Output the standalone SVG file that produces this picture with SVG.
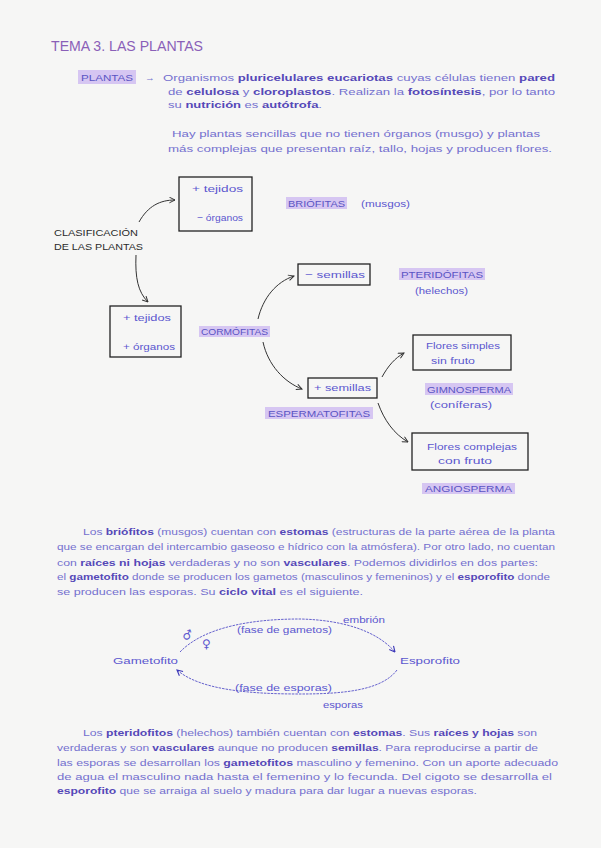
<svg xmlns="http://www.w3.org/2000/svg" width="601" height="848" viewBox="0 0 601 848">
<defs>
<style>
.bg{fill:#f6f6f5}
.title{font-family:"Liberation Sans",Arial,sans-serif;font-size:15px;fill:#8a5fb8}
.p{font-family:"Liberation Sans",Arial,sans-serif;font-size:9.5px;fill:#7470cf}
.d{fill:#5548b8;font-weight:bold}
.lbl{font-family:"Liberation Sans",Arial,sans-serif;font-size:9.5px;fill:#5b57cf}
.sym{font-family:"DejaVu Sans",sans-serif;font-size:12px;fill:#5b57cf}
.cap{font-family:"Liberation Sans",Arial,sans-serif;font-size:9.5px;fill:#5a54c4}
.blk{font-family:"Liberation Sans",Arial,sans-serif;font-size:9.5px;fill:#2a2a2a}
.hl{fill:#d6c6f2}
.box{fill:none;stroke:#222;stroke-width:1.3}
.con{fill:none;stroke:#333;stroke-width:1}
.cyc{fill:none;stroke:#5550c8;stroke-width:0.9;stroke-dasharray:2.5 1}
</style>
<marker id="ah" viewBox="0 0 10 10" refX="9" refY="5" markerWidth="7" markerHeight="7" orient="auto" markerUnits="userSpaceOnUse">
<path d="M1,1 L9,5 L1,9" fill="none" stroke="#333" stroke-width="1.4"/>
</marker>
<marker id="ahb" viewBox="0 0 10 10" refX="9" refY="5" markerWidth="7" markerHeight="7" orient="auto" markerUnits="userSpaceOnUse">
<path d="M1,1 L9,5 L1,9" fill="none" stroke="#3d38b8" stroke-width="1.6"/>
</marker>
</defs>
<rect class="bg" x="0" y="0" width="601" height="848"/>

<text class="title" x="51" y="51" textLength="152" lengthAdjust="spacingAndGlyphs">TEMA 3. LAS PLANTAS</text>

<g id="intro">
<rect class="hl" x="78" y="70" width="58" height="14"/>
<text class="cap" x="81" y="81" textLength="52" lengthAdjust="spacingAndGlyphs">PLANTAS</text>
<text class="p" x="145" y="81">→</text>
<text class="p" x="163" y="81" textLength="392" lengthAdjust="spacingAndGlyphs">Organismos <tspan class="d">pluricelulares eucariotas</tspan> cuyas células tienen <tspan class="d">pared</tspan></text>
<text class="p" x="168" y="95" textLength="387" lengthAdjust="spacingAndGlyphs">de <tspan class="d">celulosa</tspan> y <tspan class="d">cloroplastos</tspan>. Realizan la <tspan class="d">fotosíntesis</tspan>, por lo tanto</text>
<text class="p" x="168" y="108" textLength="154" lengthAdjust="spacingAndGlyphs">su <tspan class="d">nutrición</tspan> es <tspan class="d">autótrofa</tspan>.</text>
<text class="p" x="172" y="137" textLength="368" lengthAdjust="spacingAndGlyphs">Hay plantas sencillas que no tienen órganos (musgo) y plantas</text>
<text class="p" x="168" y="152" textLength="384" lengthAdjust="spacingAndGlyphs">más complejas que presentan raíz, tallo, hojas y producen flores.</text>
</g>

<g id="clasificacion">
<text class="blk" x="54" y="236" textLength="84" lengthAdjust="spacingAndGlyphs">CLASIFICACIÓN</text>
<text class="blk" x="54" y="250" textLength="89" lengthAdjust="spacingAndGlyphs">DE LAS PLANTAS</text>
</g>

<g id="box-briofitas">
<rect class="box" x="179" y="177" width="73" height="54"/>
<text class="lbl" x="192" y="192" textLength="51" lengthAdjust="spacingAndGlyphs">+ tejidos</text>
<text class="lbl" x="197" y="221" textLength="46" lengthAdjust="spacingAndGlyphs">− órganos</text>
</g>

<g id="briofitas">
<rect class="hl" x="286" y="197" width="61" height="12"/>
<text class="cap" x="288" y="207" textLength="57" lengthAdjust="spacingAndGlyphs">BRIÓFITAS</text>
<text class="lbl" x="361" y="207" textLength="49" lengthAdjust="spacingAndGlyphs">(musgos)</text>
</g>

<g id="box-cormofitas">
<rect class="box" x="110" y="306" width="71" height="51"/>
<text class="lbl" x="123" y="321" textLength="48" lengthAdjust="spacingAndGlyphs">+ tejidos</text>
<text class="lbl" x="123" y="350" textLength="52" lengthAdjust="spacingAndGlyphs">+ órganos</text>
</g>

<g id="cormofitas">
<rect class="hl" x="199" y="326" width="71" height="11"/>
<text class="cap" x="201" y="335" textLength="67" lengthAdjust="spacingAndGlyphs">CORMÓFITAS</text>
</g>

<g id="box-pteridofitas">
<rect class="box" x="298" y="264" width="72" height="21"/>
<text class="lbl" x="305" y="278" textLength="60" lengthAdjust="spacingAndGlyphs">− semillas</text>
</g>

<g id="pteridofitas">
<rect class="hl" x="399" y="268" width="86" height="12"/>
<text class="cap" x="401" y="278" textLength="82" lengthAdjust="spacingAndGlyphs">PTERIDÓFITAS</text>
<text class="lbl" x="415" y="294" textLength="53" lengthAdjust="spacingAndGlyphs">(helechos)</text>
</g>

<g id="box-espermatofitas">
<rect class="box" x="308" y="378" width="69" height="20"/>
<text class="lbl" x="314" y="391" textLength="57" lengthAdjust="spacingAndGlyphs">+ semillas</text>
</g>

<g id="espermatofitas">
<rect class="hl" x="265" y="407" width="108" height="12"/>
<text class="cap" x="268" y="417" textLength="102" lengthAdjust="spacingAndGlyphs">ESPERMATOFITAS</text>
</g>

<g id="box-gimnosperma">
<rect class="box" x="413" y="335" width="98" height="35"/>
<text class="lbl" x="426" y="349" textLength="74" lengthAdjust="spacingAndGlyphs">Flores simples</text>
<text class="lbl" x="431" y="364" textLength="44" lengthAdjust="spacingAndGlyphs">sin fruto</text>
</g>

<g id="gimnosperma">
<rect class="hl" x="425" y="383" width="88" height="12"/>
<text class="cap" x="427" y="393" textLength="84" lengthAdjust="spacingAndGlyphs">GIMNOSPERMA</text>
<text class="lbl" x="430" y="408" textLength="62" lengthAdjust="spacingAndGlyphs">(coníferas)</text>
</g>

<g id="box-angiosperma">
<rect class="box" x="412" y="433" width="116" height="37"/>
<text class="lbl" x="427" y="450" textLength="90" lengthAdjust="spacingAndGlyphs">Flores complejas</text>
<text class="lbl" x="438" y="464" textLength="54" lengthAdjust="spacingAndGlyphs">con fruto</text>
</g>

<g id="angiosperma">
<rect class="hl" x="422" y="483" width="93" height="11"/>
<text class="cap" x="425" y="492" textLength="87" lengthAdjust="spacingAndGlyphs">ANGIOSPERMA</text>
</g>

<g id="connectors">
<path class="con" marker-end="url(#ah)" d="M139,222 C148,206 160,200 175,200"/>
<path class="con" marker-end="url(#ah)" d="M136,255 C135,278 138,292 148,302"/>
<path class="con" marker-end="url(#ah)" d="M258,319 C263,298 276,282 294,276"/>
<path class="con" marker-end="url(#ah)" d="M263,342 C268,365 284,382 302,389"/>
<path class="con" marker-end="url(#ah)" d="M382,377 C388,366 395,358 404,353"/>
<path class="con" marker-end="url(#ah)" d="M378,403 C384,420 394,434 408,442"/>
<path class="cyc" marker-end="url(#ahb)" d="M180,652 C205,626 255,619 300,619 C345,620 378,632 395,652"/>
<path class="cyc" marker-end="url(#ahb)" d="M397,670 C382,690 345,694 300,694 C250,694 200,690 177,670"/>
</g>

<g id="parrafo-briofitos">
<text class="p" x="83" y="535" textLength="472" lengthAdjust="spacingAndGlyphs">Los <tspan class="d">briófitos</tspan> (musgos) cuentan con <tspan class="d">estomas</tspan> (estructuras de la parte aérea de la planta</text>
<text class="p" x="57" y="550" textLength="498" lengthAdjust="spacingAndGlyphs">que se encargan del intercambio gaseoso e hídrico con la atmósfera). Por otro lado, no cuentan</text>
<text class="p" x="57" y="566" textLength="481" lengthAdjust="spacingAndGlyphs">con <tspan class="d">raíces ni hojas</tspan> verdaderas y no son <tspan class="d">vasculares</tspan>. Podemos dividirlos en dos partes:</text>
<text class="p" x="57" y="580" textLength="493" lengthAdjust="spacingAndGlyphs">el <tspan class="d">gametofito</tspan> donde se producen los gametos (masculinos y femeninos) y el <tspan class="d">esporofito</tspan> donde</text>
<text class="p" x="57" y="595" textLength="306" lengthAdjust="spacingAndGlyphs">se producen las esporas. Su <tspan class="d">ciclo vital</tspan> es el siguiente.</text>
</g>

<g id="gametofito">
<text class="lbl" x="113" y="664" textLength="65" lengthAdjust="spacingAndGlyphs">Gametofito</text>
</g>
<g id="esporofito">
<text class="lbl" x="400" y="664" textLength="60" lengthAdjust="spacingAndGlyphs">Esporofito</text>
</g>
<g id="ciclo-etiquetas">
<text class="sym" x="182" y="639" transform="rotate(-20 188 635)">♂</text>
<text class="sym" x="202" y="648">♀</text>
<text class="lbl" x="237" y="633" textLength="95" lengthAdjust="spacingAndGlyphs">(fase de gametos)</text>
<text class="lbl" x="343" y="623" textLength="42" lengthAdjust="spacingAndGlyphs">embrión</text>
<text class="lbl" x="235" y="691" textLength="97" lengthAdjust="spacingAndGlyphs">(fase de esporas)</text>
<text class="lbl" x="323" y="708" textLength="40" lengthAdjust="spacingAndGlyphs">esporas</text>
</g>

<g id="parrafo-pteridofitos">
<text class="p" x="83" y="736" textLength="454" lengthAdjust="spacingAndGlyphs">Los <tspan class="d">pteridofitos</tspan> (helechos) también cuentan con <tspan class="d">estomas</tspan>. Sus <tspan class="d">raíces y hojas</tspan> son</text>
<text class="p" x="57" y="751" textLength="481" lengthAdjust="spacingAndGlyphs">verdaderas y son <tspan class="d">vasculares</tspan> aunque no producen <tspan class="d">semillas</tspan>. Para reproducirse a partir de</text>
<text class="p" x="57" y="766" textLength="501" lengthAdjust="spacingAndGlyphs">las esporas se desarrollan los <tspan class="d">gametofitos</tspan> masculino y femenino. Con un aporte adecuado</text>
<text class="p" x="57" y="780" textLength="495" lengthAdjust="spacingAndGlyphs">de agua el masculino nada hasta el femenino y lo fecunda. Del cigoto se desarrolla el</text>
<text class="p" x="57" y="794" textLength="420" lengthAdjust="spacingAndGlyphs"><tspan class="d">esporofito</tspan> que se arraiga al suelo y madura para dar lugar a nuevas esporas.</text>
</g>
</svg>
